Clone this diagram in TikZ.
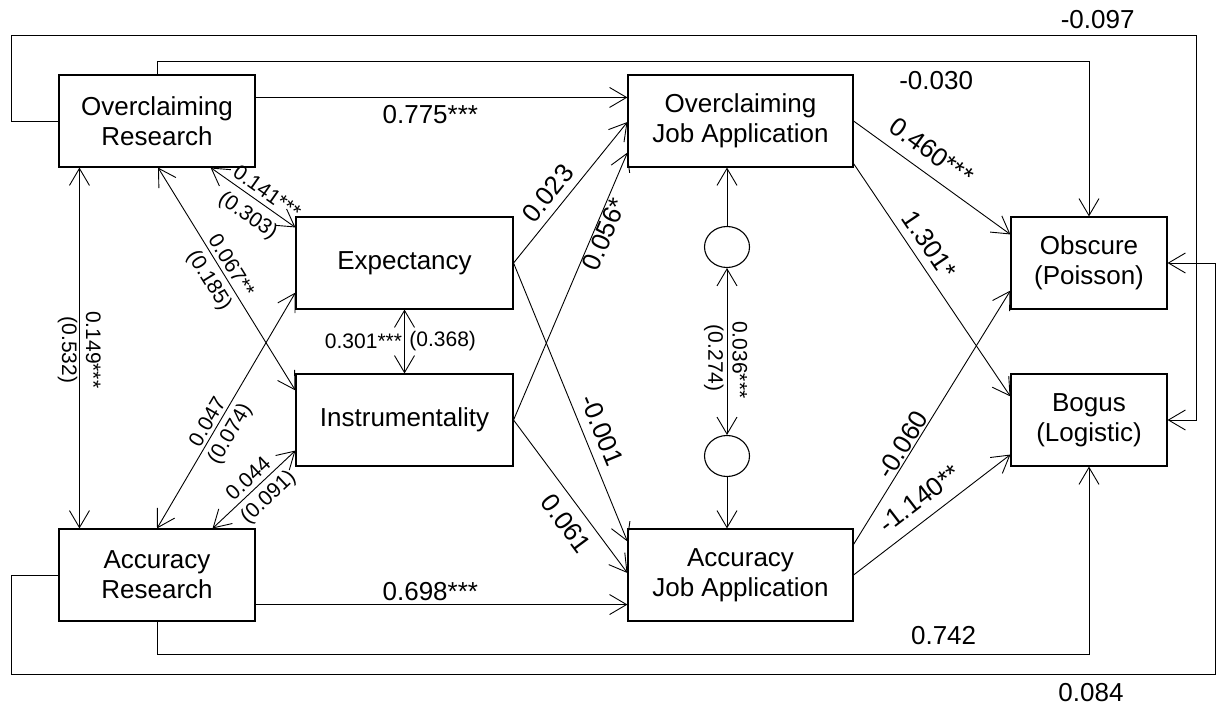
\documentclass[tikz,border=0pt]{standalone}
\usepackage{fontspec}
\setmainfont{Liberation Sans}
\usetikzlibrary{arrows.meta,calc,shapes.geometric}
\begin{document}
\begin{tikzpicture}[x=1pt,y=-1pt,
  box/.style={draw, line width=1.1pt, minimum height=92pt, align=center, inner sep=2pt, font=\fontsize{26}{30}\selectfont},
  lat/.style={draw, ellipse, line width=1.1pt, minimum width=45pt, minimum height=41pt, inner sep=0pt},
  conn/.style={line width=0.9pt},
  arr/.style={conn, -{Straight Barb[length=17pt,width=20pt]}},
  dbl/.style={conn, {Straight Barb[length=17pt,width=20pt]}-{Straight Barb[length=17pt,width=20pt]}},
  lab/.style={font=\fontsize{26}{30}\selectfont, inner sep=1pt},
  slab/.style={font=\fontsize{21}{24}\selectfont, inner sep=1pt},
]
\useasboundingbox (0,0) rectangle (1216,706);

% boxes
\node[box, minimum width=196pt] (OR) at (157,121) {Overclaiming\\Research};
\node[box, minimum width=196pt] (AR) at (157,575) {Accuracy\\Research};
\node[box, minimum width=217pt] (EX) at (404.5,263) {Expectancy};
\node[box, minimum width=217pt] (IN) at (404.5,420) {Instrumentality};
\node[box, minimum width=225pt] (OJ) at (740.5,121) {Overclaiming\\Job Application};
\node[box, minimum width=225pt] (AJ) at (740.5,575) {Accuracy\\Job Application};
\node[box, minimum width=156pt] (OB) at (1089,263) {Obscure\\(Poisson)};
\node[box, minimum width=156pt] (BO) at (1089,420) {Bogus\\(Logistic)};
\node[lat] (L1) at (727,247) {};
\node[lat] (L2) at (727,456) {};

% loop corners
\coordinate (c1) at (11,35);
\coordinate (c2) at (1196,35);
\coordinate (c3) at (11,674);
\coordinate (c4) at (1215,674);
\coordinate (c5) at (1089,61);
\coordinate (c6) at (1089,654);

% correlations on the left
\draw[dbl] ($(OR.south west)+(21,0)$) -- node[slab,sloped,pos=.505,above=5pt] (l149) {0.149***} node[slab,sloped,pos=.505,below=0.6pt] (l532) {(0.532)} ($(AR.north west)+(21,0)$);
\draw[dbl] ($(OR.south east)+(-45,0)$) -- node[slab,sloped,pos=.58,above=4pt] (l141) {0.141***} node[slab,sloped,pos=.56,below=7pt] (l303) {(0.303)} ($(EX.north west)+(0,11)$);
\draw[dbl] ($(OR.south)+(1,0)$) -- node[slab,sloped,pos=.466,above=2.5pt] (l067) {0.067**} node[slab,sloped,pos=.469,below=5pt] (l185) {(0.185)} ($(IN.north west)+(0,17)$);
\draw[dbl] (AR.north) -- node[slab,sloped,pos=.429,above=2pt] (l047) {0.047} node[slab,sloped,pos=.433,below=4.4pt] (l074) {(0.074)} ($(EX.south west)+(0,-17)$);
\draw[dbl] ($(AR.north east)+(-43,0)$) -- node[slab,sloped,pos=.53,above=3.6pt] (l044) {0.044} node[slab,sloped,pos=.545,below=4.8pt] (l091) {(0.091)} ($(IN.south west)+(0,-16)$);
\draw[dbl] (EX.south) -- node[slab,left=1pt] (l301) {0.301***} node[slab,right=3.5pt] (l368) {(0.368)} (IN.north);

% horizontal paths
\draw[arr] ($(OR.north east)+(0,23)$) -- node[lab,pos=.47,below=6.7pt] (l775) {0.775***} ($(OJ.north west)+(0,23)$);
\draw[arr] ($(AR.south east)+(0,-17)$) -- node[lab,pos=.47,above=2.7pt] (l698) {0.698***} ($(AJ.south west)+(0,-17)$);

% mediators to outcomes
\draw[arr] (EX.east) -- node[lab,sloped,pos=.417,above=6.5pt] (l023) {0.023} ($(OJ.west)+(0,1)$);
\draw[arr] (IN.east) -- node[lab,sloped,pos=.71,below=0pt] (l056) {0.056*} ($(OJ.south west)+(0,-15)$);
\draw[arr] (EX.east) -- node[lab,sloped,pos=.625,above=8pt] (l001) {-0.001} ($(AJ.north west)+(0,13)$);
\draw[arr] (IN.east) -- node[lab,sloped,pos=.6,below=9pt] (l061) {0.061} ($(AJ.west)+(0,-2)$);

% job application to outcomes
\draw[arr] (OJ.east) -- node[lab,sloped,pos=.42,above=10.5pt] (l460) {0.460***} ($(OB.north west)+(0,18)$);
\draw[arr] ($(OJ.south east)+(0,-4)$) -- node[lab,sloped,pos=.39,above=7pt] (l1301) {1.301*} ($(BO.north west)+(0,23)$);
\draw[arr] ($(AJ.north east)+(0,16)$) -- node[lab,sloped,pos=.37,above=0pt] (l060) {-0.060} ($(OB.south west)+(0,-19)$);
\draw[arr] (AJ.east) -- node[lab,sloped,pos=.5,above=10pt] (l140) {-1.140**} ($(BO.south west)+(0,-12)$);

% latent residuals
\draw[arr] (L1.north) -- (L1.north |- OJ.south);
\draw[dbl] (L1.south) -- node[slab,sloped,pos=.55,above=4pt] (l036) {0.036***} node[slab,sloped,pos=.54,below=2pt] (l274) {(0.274)} (L2.north);
\draw[arr] (L2.south) -- (L2.south |- AJ.north);

% long loops
\draw[arr] (OR.west) -| (c1) -- node[lab,pos=.917,above=4.5pt] (l097) {-0.097} (c2) |- (BO.east);
\draw[arr] (AR.west) -| (c3) -- node[lab,pos=.897,below=7.5pt] (l084) {0.084} (c4) |- (OB.east);
\draw[arr] (OR.north) |- node[lab,pos=.918,below=8.5pt] (l030) {-0.030} (c5) -- (OB.north);
\draw[arr] (AR.south) |- node[lab,pos=.922,above=7.5pt] (l742) {0.742} (c6) -- (BO.south);
\end{tikzpicture}
\end{document}
